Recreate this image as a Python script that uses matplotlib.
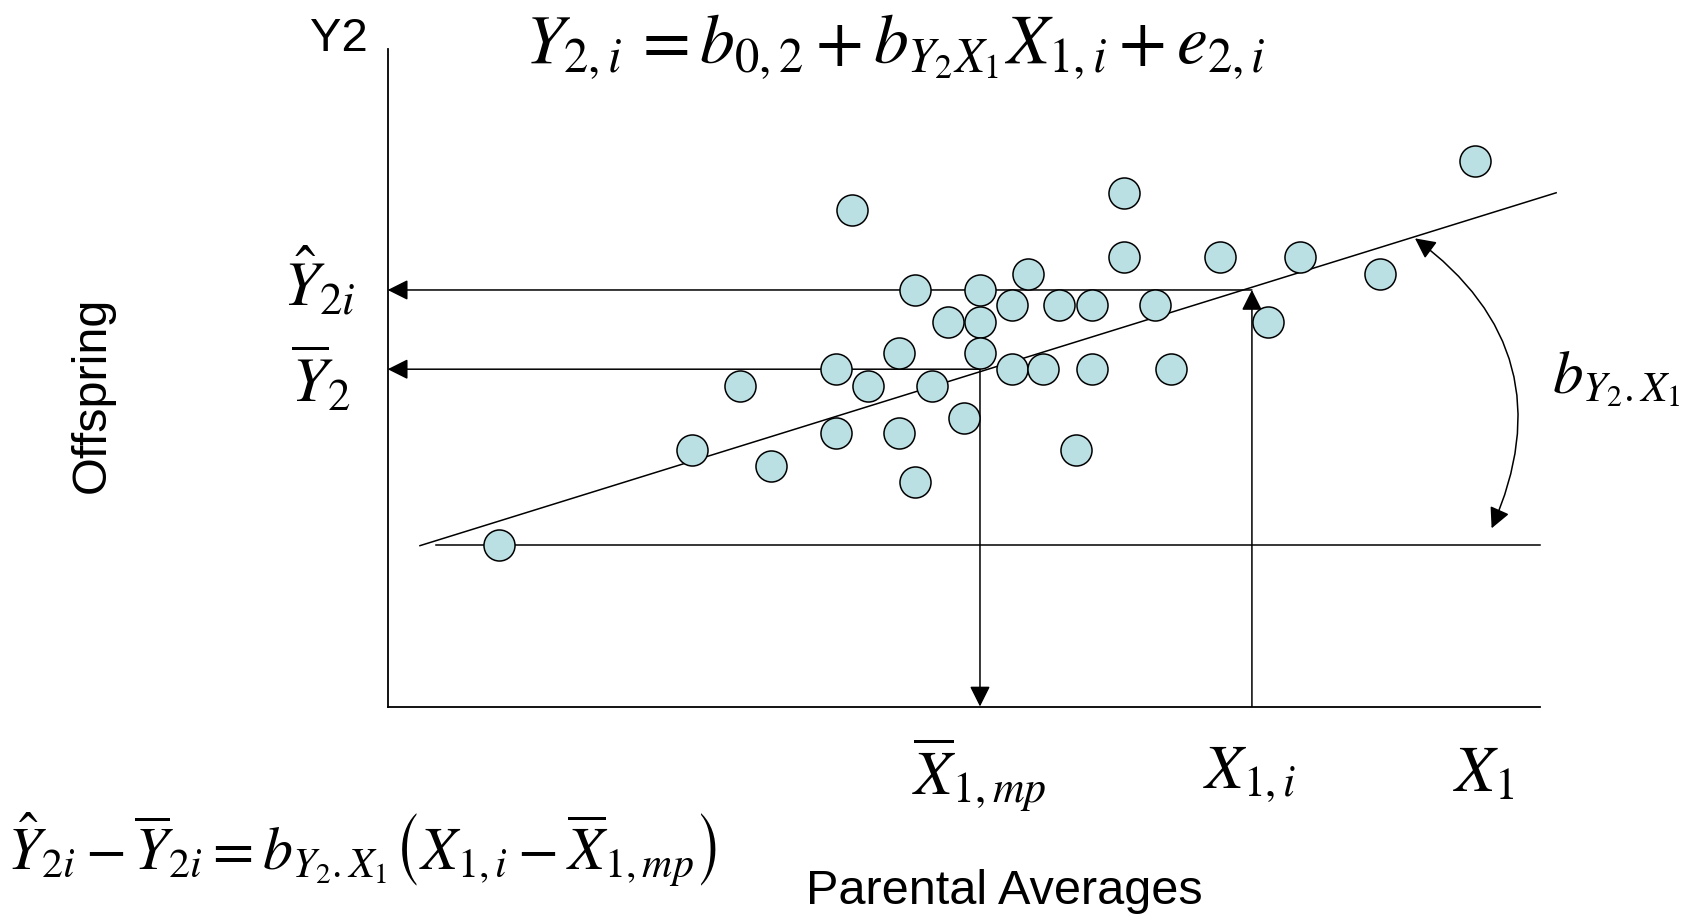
import matplotlib
matplotlib.use("Agg")
import matplotlib.pyplot as plt
from matplotlib.patches import FancyArrowPatch, ArrowStyle

W, H = 1694, 916
plt.rcParams['mathtext.fontset'] = 'stix'
plt.rcParams['font.family'] = ['Liberation Sans', 'DejaVu Sans']

# ---- data (arbitrary units, axis runs 0..100 both ways) ----
parent_avg = [9.7, 26.4, 30.6, 33.3, 38.9, 38.9, 40.3, 41.7, 44.4, 44.4,
              45.8, 45.8, 47.2, 48.6, 50.0, 51.4, 51.4, 51.4, 54.2, 54.2,
              55.6, 56.9, 58.3, 59.7, 61.1, 61.1, 63.9, 63.9, 66.6, 68.0,
              72.2, 76.4, 79.2, 86.1, 94.4]
offspring = [24.6, 39.0, 48.8, 36.6, 51.3, 41.6, 75.5, 48.8, 53.7, 41.6,
             63.4, 34.2, 48.8, 58.5, 43.9, 63.4, 58.5, 53.7, 61.0, 51.3,
             65.8, 51.3, 61.0, 39.0, 61.0, 51.3, 78.1, 68.3, 61.0, 51.3,
             68.3, 58.5, 68.3, 65.8, 82.9]

x_mean = 51.4          # parental mean
y_mean = 51.3          # offspring mean
x_i = 75.0             # chosen X_{1,i}
y_hat_i = 63.35        # predicted Y_{2i}
reg_intercept = 22.94
reg_slope = 0.5443
reg_x = [2.8, 101.4]
base_y = 24.6
base_x = [4.2, 100.0]
arc_from = (89.15, 71.2)
arc_to = (95.8, 27.1)

fig = plt.figure(figsize=(W / 100, H / 100), dpi=100)
ax = fig.add_axes([387.7 / W, 1 - 706.5 / H, 1152.3 / W, 657.5 / H])
ax.set_xlim(0, 100)
ax.set_ylim(0, 100)
for s in ['top', 'right']:
    ax.spines[s].set_visible(False)
for s in ['left', 'bottom']:
    ax.spines[s].set_linewidth(1.3)
ax.set_xticks([])
ax.set_yticks([])
ax.patch.set_visible(False)

lw = 1.1
# regression line
ax.plot(reg_x, [reg_intercept + reg_slope * v for v in reg_x], color='black',
        lw=lw, clip_on=False, zorder=2)
# horizontal baseline
ax.plot(base_x, [base_y, base_y], color='black', lw=lw, clip_on=False, zorder=2)

def arrow(p0, p1, style='-|>', conn='arc3,rad=0'):
    st = ArrowStyle(style, head_length=1.0, head_width=0.5)
    a = FancyArrowPatch(p0, p1, arrowstyle=st, mutation_scale=12.5, lw=lw,
                        color='black', shrinkA=0, shrinkB=0,
                        connectionstyle=conn, clip_on=False, zorder=2)
    ax.add_patch(a)

arrow((x_i, y_hat_i), (0, y_hat_i))
arrow((x_mean, y_mean), (0, y_mean))
arrow((x_mean, y_mean), (x_mean, 0))
arrow((x_i, 0), (x_i, y_hat_i))
arrow(arc_from, arc_to, style='<|-|>', conn='arc3,rad=-0.4')

ax.scatter(parent_avg, offspring, s=500, facecolor='#BBE0E3',
           edgecolor='black', linewidth=1.1, zorder=3, clip_on=False)

def ftext(px, py, s, size, **kw):
    fig.text(px / W, 1 - py / H, s, fontsize=size, ha='center', va='center', **kw)

ftext(339, 39, 'Y2', 34)
ftext(92, 395, 'Offspring', 35, rotation=90)
ftext(1004, 892, 'Parental Averages', 35)
ftext(895, 47, r'$Y_{2,i}\,=b_{0,2}+b_{Y_2X_1}X_{1,i}+e_{2,i}$', 50)
ftext(319, 282, r'$\hat{Y}_{2i}$', 46)
ftext(321, 380, r'$\overline{Y}_{2}$', 46)
ftext(979, 775, r'$\overline{X}_{1,mp}$', 45)
ftext(1249, 774, r'$X_{1,i}$', 45)
ftext(1484, 774, r'$X_{1}$', 47)
ftext(1616, 379, r'$b_{Y_2.X_1}$', 44)
ftext(362, 850, r'$\hat{Y}_{2i}-\overline{Y}_{2i}=b_{Y_2.X_1}\left(X_{1,i}-\overline{X}_{1,mp}\right)$', 43)

fig.savefig('out.png', dpi=100, facecolor='white')
